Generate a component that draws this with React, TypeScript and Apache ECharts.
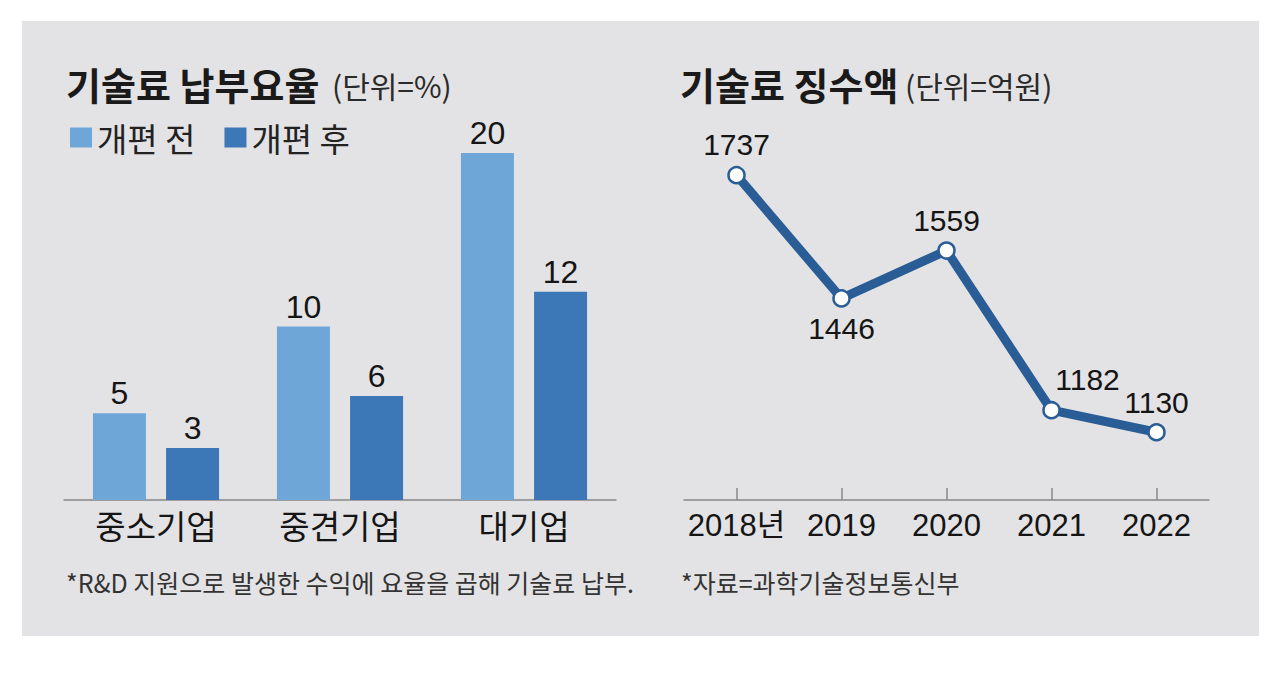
import React, { useEffect, useRef } from "react";
import * as echarts from "echarts";

const categories = ["중소기업", "중견기업", "대기업"];
const beforeValues = [5, 10, 20];
const afterValues = [3, 6, 12];
const seriesNames = ["개편 전", "개편 후"];

const years = ["2018년", "2019", "2020", "2021", "2022"];
const royalty = [1737, 1446, 1559, 1182, 1130];

const leftTitle = "기술료 납부요율";
const leftUnit = "(단위=%)";
const rightTitle = "기술료 징수액";
const rightUnit = "(단위=억원)";
const leftNote = "*R&D 지원으로 발생한 수익에 요율을 곱해 기술료 납부.";
const rightNote = "*자료=과학기술정보통신부";

const KR = "'Noto Sans CJK KR', 'Noto Sans', sans-serif";
const NUM = "'Liberation Sans Narrow', 'Liberation Sans', 'Noto Sans CJK KR', sans-serif";
const LIGHT = "#6ea6d8";
const DARK = "#3c77b7";
const LINE = "#2a5d96";

export default function App() {
  const ref = useRef<HTMLDivElement>(null);
  useEffect(() => {
    if (!ref.current) return;
    const chart = echarts.init(ref.current, null, { renderer: "svg" });
    const labelPos = ["top", "bottom", "top", "top", "top"];
    const labelOffset = [[0, 0], [0, 0], [0, 0], [36, 0], [0, 0]];
    chart.setOption({
      animation: false,
      backgroundColor: "#ffffff",
      graphic: [
        { type: "rect", z: -10, shape: { x: 22, y: 21, width: 1237, height: 615 }, style: { fill: "#e3e3e5" } },
        { type: "text", x: 66, y: 83, style: { text: leftTitle, font: `bold 38px ${KR}`, fill: "#1a1a1a", textVerticalAlign: "middle" } },
        { type: "text", x: 332, y: 85, style: { text: leftUnit, font: `30px ${KR}`, fill: "#2a2a2a", textVerticalAlign: "middle" } },
        { type: "text", x: 680, y: 83, style: { text: rightTitle, font: `bold 38px ${KR}`, fill: "#1a1a1a", textVerticalAlign: "middle" } },
        { type: "text", x: 905, y: 85, style: { text: rightUnit, font: `30px ${KR}`, fill: "#2a2a2a", textVerticalAlign: "middle" } },
        { type: "text", x: 66, y: 582, style: { text: leftNote, font: `25px ${KR}`, fill: "#333", textVerticalAlign: "middle" } },
        { type: "text", x: 681, y: 582, style: { text: rightNote, font: `25px ${KR}`, fill: "#333", textVerticalAlign: "middle" } },
      ],
      legend: {
        data: seriesNames,
        left: 70,
        top: 121,
        icon: "rect",
        itemWidth: 22,
        itemHeight: 20,
        itemGap: 29,
        padding: 0,
        textStyle: { fontSize: 33, fontFamily: KR, color: "#222" },
      },
      grid: [
        { left: 64, width: 552, top: 153, bottom: 197 },
        { left: 684, width: 525, top: 140, bottom: 197 },
      ],
      xAxis: [
        {
          type: "category",
          gridIndex: 0,
          data: categories,
          axisLine: { lineStyle: { color: "#888", width: 1.5 } },
          axisTick: { show: false },
          axisLabel: { fontSize: 33, fontFamily: KR, color: "#151515", margin: 8 },
        },
        {
          type: "category",
          gridIndex: 1,
          data: years,
          boundaryGap: true,
          axisLine: { lineStyle: { color: "#888", width: 1.5 } },
          axisTick: { show: true, inside: true, length: 12, alignWithLabel: true, lineStyle: { color: "#888", width: 1.5 } },
          axisLabel: { interval: 0, fontSize: 31, fontFamily: NUM, color: "#151515", margin: 10 },
        },
      ],
      yAxis: [
        { type: "value", gridIndex: 0, min: 0, max: 20, show: false, splitLine: { show: false } },
        { type: "value", gridIndex: 1, min: 970, max: 1820, show: false, splitLine: { show: false } },
      ],
      series: [
        {
          name: seriesNames[0],
          type: "bar",
          xAxisIndex: 0,
          yAxisIndex: 0,
          data: beforeValues,
          barWidth: 53,
          barGap: "38%",
          itemStyle: { color: LIGHT },
          label: { show: true, position: "top", distance: 4, fontSize: 32, fontFamily: NUM, color: "#151515" },
        },
        {
          name: seriesNames[1],
          type: "bar",
          xAxisIndex: 0,
          yAxisIndex: 0,
          data: afterValues,
          barWidth: 53,
          barGap: "38%",
          itemStyle: { color: DARK },
          label: { show: true, position: "top", distance: 4, fontSize: 32, fontFamily: NUM, color: "#151515" },
        },
        {
          name: "기술료 징수액",
          type: "line",
          xAxisIndex: 1,
          yAxisIndex: 1,
          data: royalty.map((v, i) => ({
            value: v,
            label: { position: labelPos[i], offset: labelOffset[i] },
          })),
          lineStyle: { color: LINE, width: 9 },
          symbol: "circle",
          symbolSize: 16,
          itemStyle: { color: "#ffffff", borderColor: LINE, borderWidth: 2.5 },
          label: { show: true, distance: 6, fontSize: 30, fontFamily: NUM, color: "#151515" },
          z: 3,
        },
      ],
    });
    return () => chart.dispose();
  }, []);
  return <div ref={ref} style={{ position: "absolute", left: 0, top: 0, width: 1280, height: 697 }} />;
}
